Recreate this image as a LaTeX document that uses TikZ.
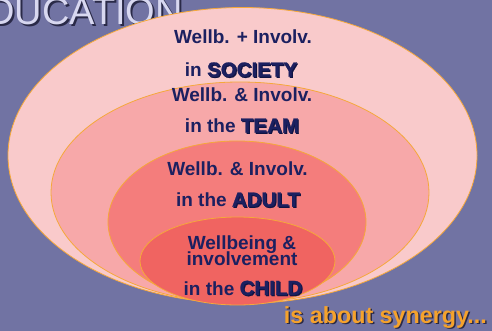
\documentclass[tikz,border=0pt]{standalone}
\usepackage{fontspec}
\setmainfont{Liberation Sans}
\newfontfamily\heavyfont{Liberation Sans}[UprightFeatures={FakeBold=1.2}, BoldFeatures={FakeBold=1.2}]
\usetikzlibrary{shapes.geometric}
\definecolor{bg}{HTML}{7173A3}
\definecolor{c1}{HTML}{F9CACB}
\definecolor{c2}{HTML}{F7A8A9}
\definecolor{c3}{HTML}{F47D7C}
\definecolor{c4}{HTML}{F06461}
\definecolor{rim}{HTML}{F5A83A}
\definecolor{ink}{HTML}{1C2060}
\definecolor{shade}{HTML}{0B0D35}
\definecolor{gold}{HTML}{F5A22C}
\definecolor{lav}{HTML}{D8D8F0}
\definecolor{darkshade}{HTML}{2A2A48}
\newcommand\shword[1]{{\heavyfont\bfseries\fontsize{20.5}{22}\selectfont\makebox[0pt][l]{\hspace{1.1pt}\raisebox{-1.1pt}{\textcolor{shade!70!ink}{#1}}}#1}}
\begin{document}
\begin{tikzpicture}[x=1pt,y=-1pt,
  ring/.style={ellipse, draw=rim, line width=0.8pt, inner sep=0pt},
  lbl/.style={text=ink, font=\bfseries\fontsize{19}{20}\selectfont, anchor=base, inner sep=0pt},
  title/.style={font=\fontsize{38}{38}\selectfont, anchor=base east, inner sep=0pt}
]
\fill[bg] (0,0) rectangle (492,331);
\useasboundingbox (0,0) rectangle (492,331);
% title
\node[title, text=darkshade] (titleshadow) at (185,27) {EDUCATION};
\node[title, text=lav] (titletext) at (183,25) {EDUCATION};
% rings
\node[ring, fill=c1, minimum width=469pt, minimum height=296pt] (society) at (242.5,155.5) {};
\node[ring, fill=c2, minimum width=378pt, minimum height=221pt] (team) at (240,192.5) {};
\node[ring, fill=c3, minimum width=258pt, minimum height=162pt] (adult) at (237,222) {};
\node[ring, fill=c4, minimum width=195pt, minimum height=88pt] (child) at (237.5,261) {};
% labels
\node[lbl] (s1) at (243,44) {Wellb. + Involv.};
\node[lbl] (s2) at (241,76.7) {in \shword{SOCIETY}};
\node[lbl] (t1) at (242,101.7) {Wellb. \& Involv.};
\node[lbl] (t2) at (242,132.7) {in the \shword{TEAM}};
\node[lbl] (a1) at (237.5,175.7) {Wellb. \& Involv.};
\node[lbl] (a2) at (238,206.7) {in the \shword{ADULT}};
\node[lbl] (c1l) at (242,249) {Wellbeing \&};
\node[lbl] (c2l) at (242,265) {involvement};
\node[lbl] (c3l) at (243,295) {in the \shword{CHILD}};
% synergy
\node[anchor=base east, inner sep=0pt, font=\bfseries\fontsize{23.3}{24}\selectfont, text=darkshade] (synshadow) at (488.5,324.5) {is about synergy...};
\node[anchor=base east, inner sep=0pt, font=\bfseries\fontsize{23.3}{24}\selectfont, text=gold] (synergy) at (487,323) {is about synergy...};
\end{tikzpicture}
\end{document}
